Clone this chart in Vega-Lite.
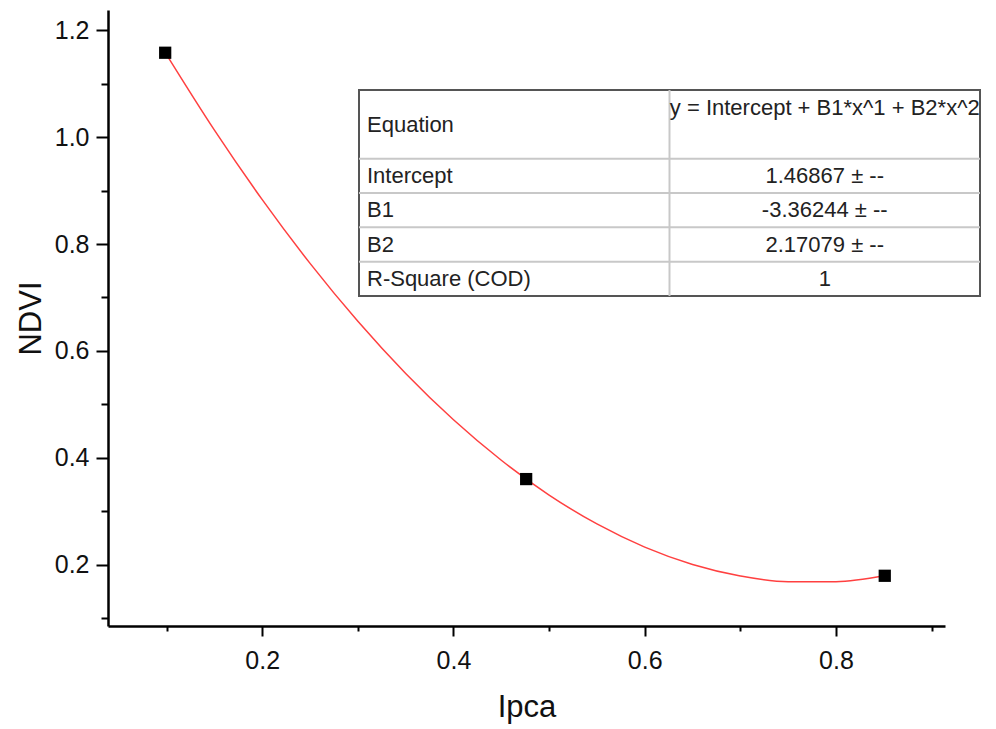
{
  "$schema": "https://vega.github.io/schema/vega-lite/v6.json",
  "autosize": {"type": "none"},
  "width": 837,
  "height": 616,
  "padding": {"left": 108, "top": 10, "right": 51, "bottom": 103},
  "background": "white",
  "config": {"view": {"stroke": null}, "font": "Liberation Sans"},
  "datasets": {
    "points": [
      {"Ipca": 0.0985, "NDVI": 1.158},
      {"Ipca": 0.476, "NDVI": 0.36},
      {"Ipca": 0.851, "NDVI": 0.179}
    ],
    "fit": [
      {"Ipca": 0.0985, "NDVI": 1.1585},
      {"Ipca": 0.15, "NDVI": 1.0131},
      {"Ipca": 0.2, "NDVI": 0.883},
      {"Ipca": 0.25, "NDVI": 0.7637},
      {"Ipca": 0.3, "NDVI": 0.6553},
      {"Ipca": 0.35, "NDVI": 0.5577},
      {"Ipca": 0.4, "NDVI": 0.471},
      {"Ipca": 0.45, "NDVI": 0.3952},
      {"Ipca": 0.5, "NDVI": 0.3301},
      {"Ipca": 0.55, "NDVI": 0.276},
      {"Ipca": 0.6, "NDVI": 0.2327},
      {"Ipca": 0.65, "NDVI": 0.2002},
      {"Ipca": 0.7, "NDVI": 0.1787},
      {"Ipca": 0.75, "NDVI": 0.1679},
      {"Ipca": 0.8, "NDVI": 0.168},
      {"Ipca": 0.851, "NDVI": 0.1794}
    ],
    "tableBox": [{"c0": 0, "c1": 2, "r0": 0, "r1": 6}],
    "tableLines": [
      {"c0": 0, "c1": 2, "r0": 2, "r1": 2},
      {"c0": 0, "c1": 2, "r0": 3, "r1": 3},
      {"c0": 0, "c1": 2, "r0": 4, "r1": 4},
      {"c0": 0, "c1": 2, "r0": 5, "r1": 5},
      {"c0": 1, "c1": 1, "r0": 0, "r1": 6}
    ],
    "tableText": [
      {"label": "Equation", "col": 0, "row": 1.02, "side": "left"},
      {"label": "Intercept", "col": 0, "row": 2.5, "side": "left"},
      {"label": "B1", "col": 0, "row": 3.5, "side": "left"},
      {"label": "B2", "col": 0, "row": 4.5, "side": "left"},
      {"label": "R-Square (COD)", "col": 0, "row": 5.5, "side": "left"},
      {"label": "y = Intercept + B1*x^1 + B2*x^2", "col": 1.5, "row": 0.52, "side": "center"},
      {"label": "1.46867 ± --", "col": 1.5, "row": 2.5, "side": "center"},
      {"label": "-3.36244 ± --", "col": 1.5, "row": 3.5, "side": "center"},
      {"label": "2.17079 ± --", "col": 1.5, "row": 4.5, "side": "center"},
      {"label": "1", "col": 1.5, "row": 5.5, "side": "center"}
    ]
  },
  "layer": [
    {
      "layer": [
        {
          "data": {"name": "fit"},
          "mark": {"type": "line", "color": "#ff4040", "strokeWidth": 1.5, "interpolate": "monotone"},
          "encoding": {
            "x": {
              "field": "Ipca", "type": "quantitative",
              "scale": {"domain": [0.0387, 0.914], "nice": false, "zero": false},
              "axis": {
                "title": "Ipca",
                "values": [0.1, 0.2, 0.3, 0.4, 0.5, 0.6, 0.7, 0.8, 0.9],
                "labelExpr": "round(datum.value*10) % 2 == 0 ? format(datum.value, '.1f') : ''",
                "tickSize": {"condition": {"test": "round(datum.value*10) % 2 == 0", "value": 10}, "value": 5},
                "grid": false,
                "domainColor": "#000", "domainWidth": 2.5,
                "tickColor": "#000", "tickWidth": 2,
                "labelColor": "#111", "labelFontSize": 25, "labelPadding": 12,
                "labelOverlap": false, "labelFlush": false,
                "titleFontSize": 31, "titleFontWeight": "normal", "titleColor": "#111", "titlePadding": 19
              }
            },
            "y": {
              "field": "NDVI", "type": "quantitative",
              "scale": {"domain": [0.085, 1.238], "nice": false, "zero": false},
              "axis": {
                "title": "NDVI",
                "values": [0.1, 0.2, 0.3, 0.4, 0.5, 0.6, 0.7, 0.8, 0.9, 1.0, 1.1, 1.2],
                "labelExpr": "round(datum.value*10) % 2 == 0 ? format(datum.value, '.1f') : ''",
                "tickSize": {"condition": {"test": "round(datum.value*10) % 2 == 0", "value": 12}, "value": 7},
                "grid": false,
                "domainColor": "#000", "domainWidth": 2.5,
                "tickColor": "#000", "tickWidth": 2,
                "labelColor": "#111", "labelFontSize": 25, "labelPadding": 7,
                "labelOverlap": false, "labelFlush": false,
                "titleFontSize": 31, "titleFontWeight": "normal", "titleColor": "#111", "titlePadding": 7
              }
            }
          }
        },
        {
          "data": {"name": "points"},
          "mark": {"type": "point", "shape": "square", "filled": true, "color": "#000", "size": 150, "opacity": 1},
          "encoding": {
            "x": {"field": "Ipca", "type": "quantitative"},
            "y": {"field": "NDVI", "type": "quantitative"}
          }
        }
      ]
    },
    {
      "layer": [
        {
          "data": {"name": "tableBox"},
          "mark": {"type": "rect", "fill": "white", "stroke": "#555", "strokeWidth": 2},
          "encoding": {
            "x": {"field": "c0", "type": "quantitative", "scale": {"domain": [0, 2], "range": [251, 872], "nice": false, "zero": false}, "axis": null},
            "x2": {"field": "c1"},
            "y": {"field": "r0", "type": "quantitative", "scale": {"domain": [0, 6], "range": [80, 286], "nice": false, "zero": false}, "axis": null},
            "y2": {"field": "r1"}
          }
        },
        {
          "data": {"name": "tableLines"},
          "mark": {"type": "rule", "color": "#c8c8c8", "strokeWidth": 2},
          "encoding": {
            "x": {"field": "c0", "type": "quantitative"},
            "x2": {"field": "c1"},
            "y": {"field": "r0", "type": "quantitative"},
            "y2": {"field": "r1"}
          }
        },
        {
          "data": {"name": "tableText"},
          "transform": [{"filter": "datum.side == 'left'"}],
          "mark": {"type": "text", "align": "left", "baseline": "middle", "dx": 8, "fontSize": 22, "color": "#222", "font": "Liberation Sans"},
          "encoding": {
            "x": {"field": "col", "type": "quantitative"},
            "y": {"field": "row", "type": "quantitative"},
            "text": {"field": "label"}
          }
        },
        {
          "data": {"name": "tableText"},
          "transform": [{"filter": "datum.side == 'center'"}],
          "mark": {"type": "text", "align": "center", "baseline": "middle", "fontSize": 22, "color": "#222", "font": "Liberation Sans"},
          "encoding": {
            "x": {"field": "col", "type": "quantitative"},
            "y": {"field": "row", "type": "quantitative"},
            "text": {"field": "label"}
          }
        }
      ]
    }
  ],
  "resolve": {"scale": {"x": "independent", "y": "independent"}, "axis": {"x": "independent", "y": "independent"}}
}
